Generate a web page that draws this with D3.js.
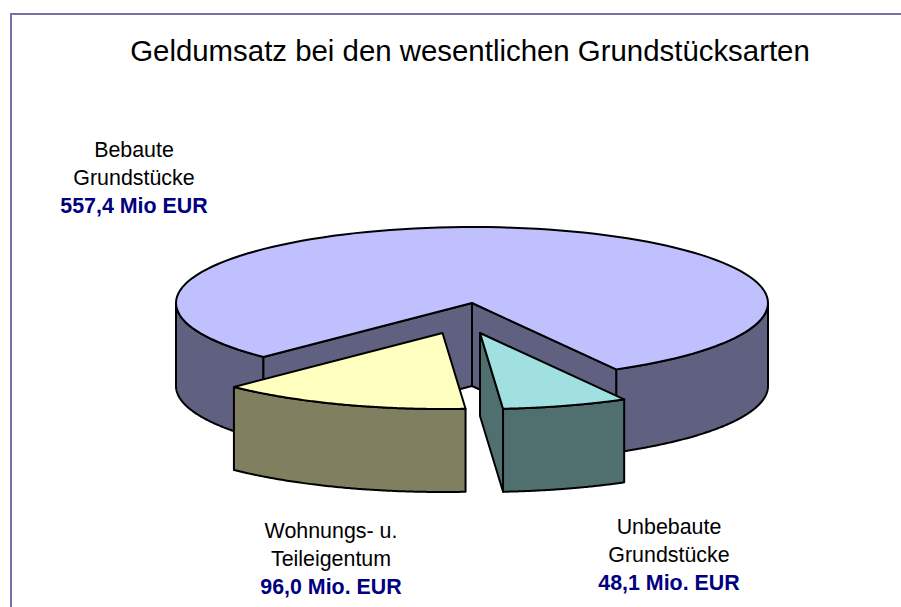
<!DOCTYPE html>
<html><head><meta charset="utf-8">
<script src="https://cdn.jsdelivr.net/npm/d3@7/dist/d3.min.js"></script>
<style>html,body{margin:0;padding:0;background:#fff}svg{display:block}text{font-family:"Liberation Sans",Arial,sans-serif}</style>
</head><body><script>
const titleText = "Geldumsatz bei den wesentlichen Grundstücksarten";
const categories = ["Wohnungs- u. Teileigentum", "Unbebaute Grundstücke", "Bebaute Grundstücke"];
const values = [96.0, 48.1, 557.4];
const nameLines = [["Wohnungs- u.", "Teileigentum"], ["Unbebaute", "Grundstücke"], ["Bebaute", "Grundstücke"]];
const valueLabels = ["96,0 Mio. EUR", "48,1 Mio. EUR", "557,4 Mio EUR"];
const topColors = ["#FFFFC0", "#A0E0E0", "#C0C0FF"];
const sideColors = ["#808060", "#507070", "#606080"];

const W = 901, H = 607;
const cx = 472, cy = 303, rx = 296, ry = 76, depth = 83;
const explode = [[-29.5, 30], [8, 30], [0, 0]];
const labelPos = [[331, 538], [669, 534], [134, 157]];
const lineStep = 27.8;

const svg = d3.select("body").append("svg").attr("width", W).attr("height", H);
svg.append("path").attr("d", `M11,${H}V14H${W}`).attr("fill", "none")
   .attr("stroke", "#7272A8").attr("stroke-width", 2);

svg.append("text").attr("x", 470).attr("y", 60.5).attr("text-anchor", "middle")
   .attr("font-size", 29.4).attr("fill", "#000").text(titleText);

const xs = d3.scaleLinear().domain([-1, 1]).range([cx - rx, cx + rx]);
const ys = d3.scaleLinear().domain([-1, 1]).range([cy - ry, cy + ry]);
const rad = d => d * Math.PI / 180;
const arcs = d3.pie().sort(null).startAngle(rad(-44.8)).endAngle(rad(315.2))(values);
const line = d3.line();
const pt = (t, i, dz = 0) => [xs(Math.sin(t)) + explode[i][0], ys(Math.cos(t)) + explode[i][1] + dz];
const apex = (i, dz = 0) => [xs(0) + explode[i][0], ys(0) + explode[i][1] + dz];
const samples = (a, b) => d3.range(0, 121).map(k => a + (b - a) * k / 120);
const face = (g, pts, fill) => g.append("path").attr("d", line(pts) + "Z")
   .attr("fill", fill).attr("stroke", "#000").attr("stroke-width", 2).attr("stroke-linejoin", "round");

const g = svg.append("g");
// large slice first, then the two exploded slices in front
[2, 0, 1].forEach(i => {
  const a = arcs[i].startAngle, b = arcs[i].endAngle;
  const side = sideColors[i], top = topColors[i];
  if (i === 2) {
    // visible outer wall: only where it faces the viewer
    face(g, [...samples(b, rad(270)).map(t => pt(t, i)), ...samples(rad(270), b).map(t => pt(t, i, depth))], side);
    face(g, [...samples(a, rad(90)).map(t => pt(t, i)), ...samples(rad(90), a).map(t => pt(t, i, depth))], side);
    // inner cut walls
    face(g, [pt(a, i), apex(i), apex(i, depth), pt(a, i, depth)], side);
    face(g, [pt(b, i), apex(i), apex(i, depth), pt(b, i, depth)], side);
  } else {
    if (i === 1) face(g, [apex(i), pt(a, i), pt(a, i, depth), apex(i, depth)], side);
    face(g, [...samples(a, b).map(t => pt(t, i)), ...samples(b, a).map(t => pt(t, i, depth))], side);
  }
  face(g, [apex(i), ...samples(a, b).map(t => pt(t, i))], top);
});

categories.forEach((c, i) => {
  const [lx, ly] = labelPos[i];
  const t = svg.append("text").attr("text-anchor", "middle").attr("font-size", 21.4);
  nameLines[i].forEach((s, k) => t.append("tspan").attr("x", lx).attr("y", ly + k * lineStep).attr("fill", "#000").text(s));
  t.append("tspan").attr("x", lx).attr("y", ly + 2 * lineStep).attr("fill", "#000080").attr("font-weight", "bold").text(valueLabels[i]);
});
</script></body></html>
